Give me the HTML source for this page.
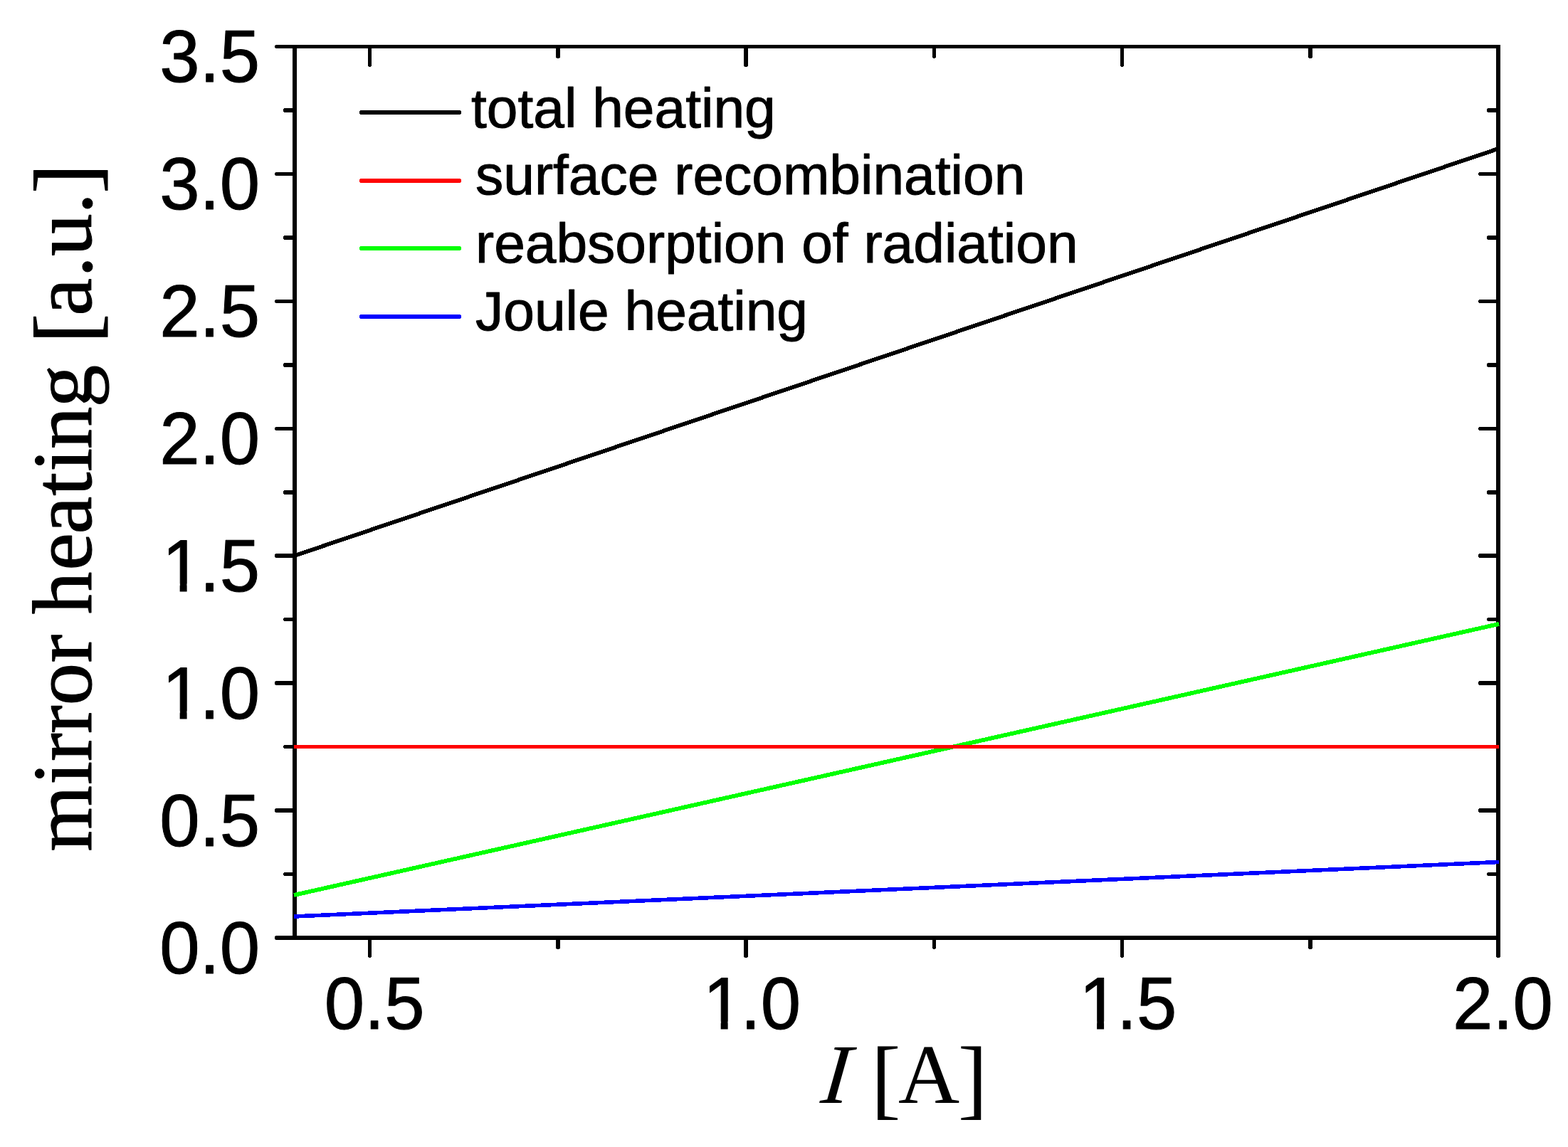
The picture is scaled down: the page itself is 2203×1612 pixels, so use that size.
<!DOCTYPE html>
<html lang="en">
<head>
<meta charset="utf-8">
<title>mirror heating vs I</title>
<style>
html,body{margin:0;padding:0;background:#fff;}
body{width:2203px;height:1612px;overflow:hidden;}
svg{display:block;}
</style>
</head>
<body>
<svg width="2203" height="1612" viewBox="0 0 2203 1612" role="img" aria-label="mirror heating versus current">
<rect width="2203" height="1612" fill="#fff"/>
<g id="axes" stroke="#000" stroke-width="5.5" stroke-linecap="butt" fill="none" shape-rendering="crispEdges">
<path d="M387.0 65.5H2107.75"/>
<path d="M387.0 1318.0H2107.75"/>
<path d="M414.0 62.75V1320.75"/>
<path d="M2105.0 62.75V1345.0"/>
<path d="M2078.00 1318.00H2105.0 M387.00 1139.07H414.0 M2078.00 1139.07H2105.0 M387.00 960.14H414.0 M2078.00 960.14H2105.0 M387.00 781.21H414.0 M2078.00 781.21H2105.0 M387.00 602.29H414.0 M2078.00 602.29H2105.0 M387.00 423.36H414.0 M2078.00 423.36H2105.0 M387.00 244.43H414.0 M2078.00 244.43H2105.0 M399.00 1228.54H414.0 M2090.00 1228.54H2105.0 M399.00 1049.61H414.0 M2090.00 1049.61H2105.0 M399.00 870.68H414.0 M2090.00 870.68H2105.0 M399.00 691.75H414.0 M2090.00 691.75H2105.0 M399.00 512.82H414.0 M2090.00 512.82H2105.0 M399.00 333.89H414.0 M2090.00 333.89H2105.0 M399.00 154.96H414.0 M2090.00 154.96H2105.0 M519.69 65.5V92.50 M519.69 1318.0V1345.00 M1048.12 65.5V92.50 M1048.12 1318.0V1345.00 M1576.56 65.5V92.50 M1576.56 1318.0V1345.00 M783.91 65.5V80.50 M783.91 1318.0V1333.00 M1312.34 65.5V80.50 M1312.34 1318.0V1333.00 M1840.78 65.5V80.50 M1840.78 1318.0V1333.00"/>
<path stroke-width="3.5" d="M386.00 1318.00H387.50 M2077.00 1318.00H2078.50 M386.00 1139.07H387.50 M2077.00 1139.07H2078.50 M386.00 960.14H387.50 M2077.00 960.14H2078.50 M386.00 781.21H387.50 M2077.00 781.21H2078.50 M386.00 602.29H387.50 M2077.00 602.29H2078.50 M386.00 423.36H387.50 M2077.00 423.36H2078.50 M386.00 244.43H387.50 M2077.00 244.43H2078.50 M386.00 65.50H387.50 M398.00 1228.54H399.50 M2089.00 1228.54H2090.50 M398.00 1049.61H399.50 M2089.00 1049.61H2090.50 M398.00 870.68H399.50 M2089.00 870.68H2090.50 M398.00 691.75H399.50 M2089.00 691.75H2090.50 M398.00 512.82H399.50 M2089.00 512.82H2090.50 M398.00 333.89H399.50 M2089.00 333.89H2090.50 M398.00 154.96H399.50 M2089.00 154.96H2090.50 M519.69 92.00V93.50 M519.69 1344.50V1346.00 M1048.12 92.00V93.50 M1048.12 1344.50V1346.00 M1576.56 92.00V93.50 M1576.56 1344.50V1346.00 M783.91 80.00V81.50 M783.91 1332.50V1334.00 M1312.34 80.00V81.50 M1312.34 1332.50V1334.00 M1840.78 80.00V81.50 M1840.78 1332.50V1334.00 M2105.0 1344.5V1346.0"/>
</g>
<g id="curves" stroke-linecap="butt" shape-rendering="crispEdges">
<line x1="413.00" y1="1288.01" x2="2106.00" y2="1211.47" stroke="#00f" stroke-width="5.6"/>
<line x1="413.00" y1="1257.99" x2="2106.00" y2="876.94" stroke="#0f0" stroke-width="5.9"/>
<line x1="413.00" y1="1049.50" x2="2106.00" y2="1049.50" stroke="#f00" stroke-width="5"/>
<line x1="413.00" y1="781.21" x2="2106.00" y2="208.64" stroke="#000" stroke-width="5.7"/>
</g>
<g id="yticks" font-family="'Liberation Sans', Arial, Helvetica, sans-serif" font-size="101.3" fill="#000" stroke="#000" stroke-width="1.0" stroke-linejoin="round">
<text transform="translate(0,1367.6) scale(1,1.034)" x="224.2 280.5 308.7" y="0">0.0</text>
<text transform="translate(0,1188.7) scale(1,1.034)" x="224.2 280.5 308.7" y="0">0.5</text>
<text transform="translate(0,1009.7) scale(1,1.034)" x="227.7 280.5 308.7" y="0">1.0</text>
<text transform="translate(0,830.8) scale(1,1.034)" x="227.7 280.5 308.7" y="0">1.5</text>
<text transform="translate(0,651.9) scale(1,1.034)" x="224.2 280.5 308.7" y="0">2.0</text>
<text transform="translate(0,473.0) scale(1,1.034)" x="224.2 280.5 308.7" y="0">2.5</text>
<text transform="translate(0,294.0) scale(1,1.034)" x="224.2 280.5 308.7" y="0">3.0</text>
<text transform="translate(0,115.1) scale(1,1.034)" x="224.2 280.5 308.7" y="0">3.5</text>
</g>
<g id="xticks" font-family="'Liberation Sans', Arial, Helvetica, sans-serif" font-size="101.3" fill="#000" stroke="#000" stroke-width="1.0" stroke-linejoin="round">
<text transform="translate(0,1446.0) scale(1,1.034)" x="455.8 512.1 540.3" y="0">0.5</text>
<text transform="translate(0,1446.0) scale(1,1.034)" x="987.7 1040.6 1068.7" y="0">1.0</text>
<text transform="translate(0,1446.0) scale(1,1.034)" x="1516.2 1569.0 1597.1" y="0">1.5</text>
<text transform="translate(0,1446.0) scale(1,1.034)" x="2041.1 2097.4 2125.6" y="0">2.0</text>
</g>
<g id="one-masks" fill="#fff">
<rect x="230.68" y="999.24" width="21.97" height="13.00"/>
<rect x="262.61" y="999.24" width="20.07" height="13.00"/>
<rect x="230.68" y="820.31" width="21.97" height="13.00"/>
<rect x="262.61" y="820.31" width="20.07" height="13.00"/>
<rect x="990.71" y="1435.50" width="21.97" height="13.00"/>
<rect x="1022.64" y="1435.50" width="20.07" height="13.00"/>
<rect x="1519.15" y="1435.50" width="21.97" height="13.00"/>
<rect x="1551.08" y="1435.50" width="20.07" height="13.00"/>
</g>
<g id="legend" font-family="'Liberation Sans', Arial, Helvetica, sans-serif" font-size="78.5" fill="#000" stroke="#000" stroke-width="1.0" stroke-linejoin="round">
<path d="M506 158H647" stroke="#000" stroke-width="6" shape-rendering="crispEdges"/>
<path d="M505 158H648" stroke="#000" stroke-width="4" shape-rendering="crispEdges"/>
<text x="662" y="178.8">total heating</text>
<path d="M506 253.5H647" stroke="#f00" stroke-width="6" shape-rendering="crispEdges"/>
<path d="M505 253.5H648" stroke="#f00" stroke-width="4" shape-rendering="crispEdges"/>
<text x="668" y="272.5">surface recombination</text>
<path d="M506 349H647" stroke="#0f0" stroke-width="6" shape-rendering="crispEdges"/>
<path d="M505 349H648" stroke="#0f0" stroke-width="4" shape-rendering="crispEdges"/>
<text x="668" y="369.2">reabsorption of radiation</text>
<path d="M506 444.5H647" stroke="#00f" stroke-width="6" shape-rendering="crispEdges"/>
<path d="M505 444.5H648" stroke="#00f" stroke-width="4" shape-rendering="crispEdges"/>
<text x="668" y="464.1">Joule heating</text>
</g>
<text id="ylabel" transform="translate(128.1,719) rotate(-90)" font-family="'Liberation Serif', 'Times New Roman', Times, serif" font-size="119.3" fill="#000" stroke="#000" stroke-width="1.1" stroke-linejoin="round"><tspan x="-477.7 -384.0 -351.1 -311.9 -272.6 -212.5 -178.9 -144.2 -82.8 -31.4 22.3 56.1 87.7 146.6 202.1" y="0">mirror heating </tspan><tspan x="236.4" y="6.0" font-size="125.5">[</tspan><tspan x="275.2 329.3 359.0 418.2" y="0">a.u.</tspan><tspan x="447.1" y="6.0" font-size="125.5">]</tspan></text>
<text id="xlabel-i" transform="translate(1151.5,1550) skewX(-6)" font-family="'Liberation Serif', 'Times New Roman', Times, serif" font-size="119.3" font-style="italic" fill="#000">I </text>
<text id="xlabel" font-family="'Liberation Serif', 'Times New Roman', Times, serif" font-size="119.3" fill="#000"><tspan x="1223.7" y="1556.8" font-size="125.5">[</tspan><tspan x="1262" y="1550">A</tspan><tspan x="1345.7" y="1556.8" font-size="125.5">]</tspan></text>
</svg>
</body>
</html>
